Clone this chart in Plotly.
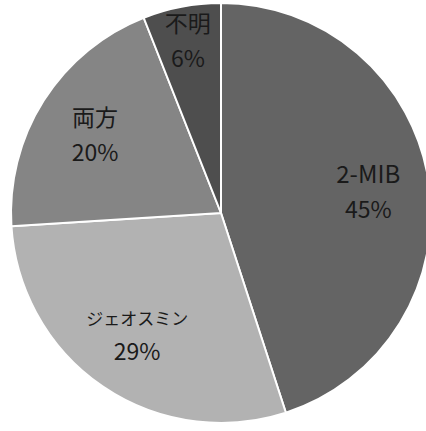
import plotly.graph_objects as go

labels = ["2-MIB", "ジェオスミン", "両方", "不明"]
values = [45, 29, 20, 6]
colors = ["#646464", "#b2b2b2", "#858585", "#4e4e4e"]
label_sizes = [24, 17, 23, 23]

W, H = 440, 431
cx, cy, r = 221, 213, 210
domain = dict(x=[(cx - r) / W, (cx + r) / W], y=[1 - (cy + r) / H, 1 - (cy - r) / H])

base = go.Pie(
    labels=labels, values=values, sort=False, direction="clockwise", rotation=0,
    marker=dict(colors=colors, line=dict(color="white", width=2)),
    textinfo="none", hoverinfo="skip", showlegend=False, domain=domain,
)

templates = [
    "<span style='font-size:%dpx'>%%{label}</span><br><span style='font-size:23px'>%%{percent:.0%%}</span>" % s
    for s in label_sizes
]
ring = go.Pie(
    labels=labels, values=values, sort=False, direction="clockwise", rotation=0,
    hole=0.42,
    marker=dict(colors=["rgba(0,0,0,0)"] * len(values), line=dict(width=0)),
    texttemplate=templates,
    textposition="inside",
    insidetextorientation="horizontal",
    textfont=dict(family="Noto Sans CJK JP", size=27, color="#1a1a1a"),
    hoverinfo="skip", showlegend=False, domain=domain,
)

fig = go.Figure([base, ring])
fig.update_layout(
    width=W, height=H,
    margin=dict(l=0, r=0, t=0, b=0),
    paper_bgcolor="white",
    uniformtext=dict(minsize=27, mode="show"),
)
fig.write_html("out.html")
